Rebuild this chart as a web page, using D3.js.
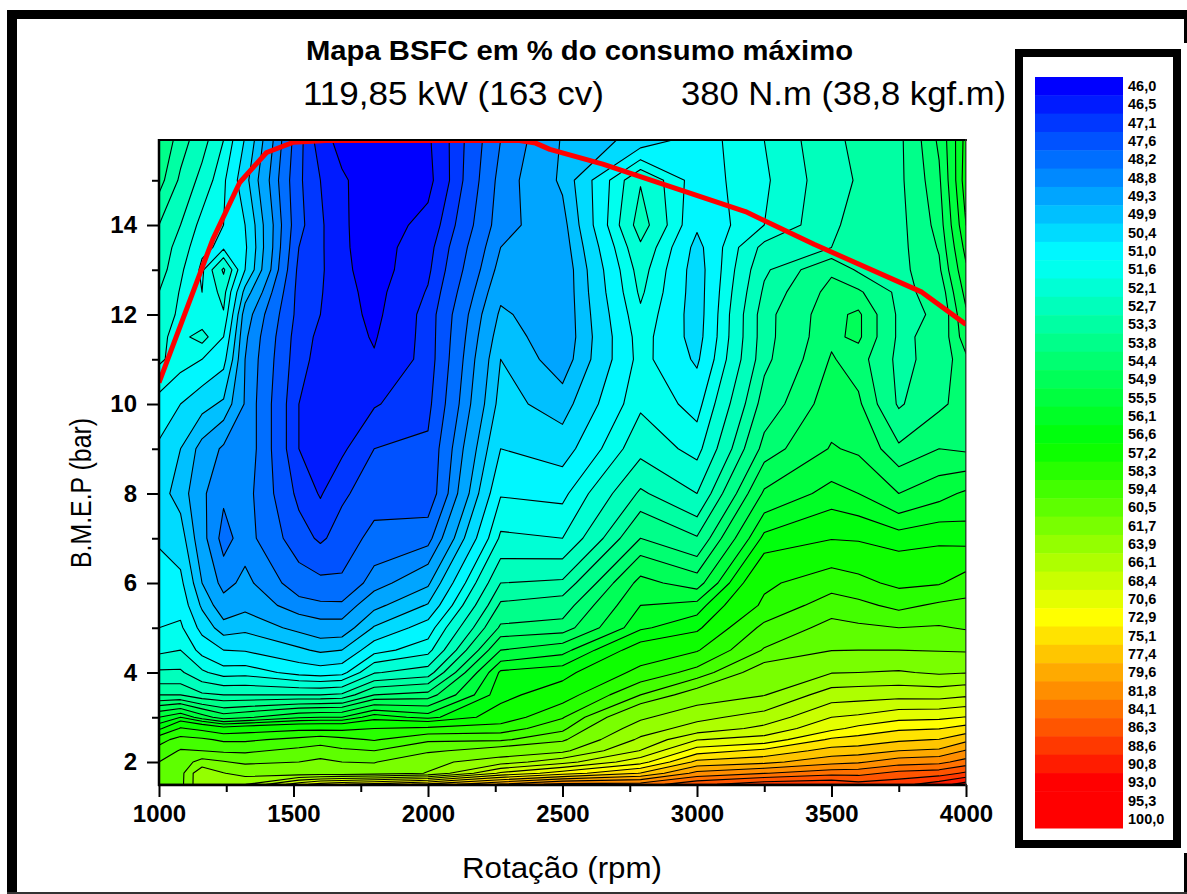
<!DOCTYPE html>
<html>
<head>
<meta charset="utf-8">
<script src="https://cdn.jsdelivr.net/npm/d3@7/dist/d3.min.js"></script>
<style>
  html, body { margin: 0; padding: 0; background: #fff; }
  svg { display: block; }
  text { font-family: "Liberation Sans", Arial, sans-serif; fill: #000; }
</style>
</head>
<body>
<svg id="chart" width="1187" height="894"></svg>
<script>
// measured engine speeds and loads of the map
var rpmCols = [1000, 1080, 1160, 1240, 1320, 1520, 1600, 1680, 1800, 2000, 2270, 2500, 2790, 3000, 3250, 3500, 3600, 3750, 3900, 4000];
var bmepRows = [15.9, 15, 14, 13.5, 13, 12.5, 12, 11.5, 11, 10, 9, 8, 7, 6, 5.5, 5, 4.5, 4, 3.5, 3, 2.75, 2.5, 2.25, 2, 1.75, 1.5];

// BSFC in % of the maximum, one line per bmepRows entry
var bsfcGrid = [
  [54.3, 53.55, 52.95, 52.1, 50.95, 47.8, 46.8, 46.25, 46.1, 46.4, 48.8, 49.95, 50.6, 51.3, 52.1, 53.2, 53.4, 53.65, 55.0, 56.8],
  [54.0, 53.2, 52.5, 51.7, 50.6, 47.7, 47.1, 46.6, 46.1, 46.3, 49.0, 50.0, 52.65, 51.3, 52.0, 53.1, 53.35, 53.65, 54.8, 56.9],
  [53.3, 52.7, 51.9, 51.6, 51.0, 47.75, 47.2, 46.6, 46.15, 46.7, 49.1, 49.7, 53.0, 51.1, 52.1, 53.2, 53.5, 53.6, 54.6, 56.6],
  [53.15, 52.4, 51.7, 51.5, 51.1, 47.6, 47.2, 46.6, 46.2, 46.9, 49.3, 49.6, 52.6, 50.8, 52.9, 53.3, 53.55, 53.6, 54.45, 56.3],
  [53.0, 52.2, 51.5, 52.8, 51.0, 47.45, 47.2, 46.65, 46.2, 47.0, 49.5, 49.5, 52.35, 50.7, 53.2, 54.3, 53.7, 53.6, 54.3, 56.0],
  [52.7, 52.05, 51.6, 52.3, 50.2, 47.4, 47.15, 46.7, 46.3, 47.15, 49.75, 49.5, 52.2, 50.7, 53.4, 54.6, 54.5, 53.65, 54.0, 55.7],
  [52.4, 52.0, 51.7, 52.05, 49.6, 47.4, 47.1, 46.75, 46.35, 47.3, 50.0, 49.5, 52.0, 50.7, 53.6, 54.75, 55.0, 53.7, 53.85, 55.4],
  [52.2, 51.95, 52.3, 51.6, 49.4, 47.3, 47.0, 46.75, 46.45, 47.3, 50.2, 49.5, 51.85, 50.75, 53.6, 54.8, 55.0, 53.7, 53.95, 55.2],
  [52.2, 51.85, 51.6, 51.2, 49.3, 47.25, 46.95, 46.75, 46.55, 47.3, 50.4, 49.6, 51.8, 50.9, 53.65, 54.95, 54.65, 53.65, 54.0, 54.8],
  [51.4, 51.0, 50.6, 50.3, 49.25, 47.1, 46.9, 46.85, 47.05, 47.45, 50.6, 50.15, 52.0, 51.4, 54.05, 55.2, 55.0, 53.72, 54.3, 54.6],
  [50.9, 50.4, 49.7, 49.2, 49.25, 47.1, 46.9, 47.0, 47.6, 47.7, 51.0, 50.7, 52.5, 51.9, 54.6, 55.55, 55.4, 54.5, 54.9, 54.8],
  [50.6, 50.2, 49.4, 48.9, 49.05, 47.45, 47.05, 47.5, 47.9, 47.75, 51.55, 51.45, 53.4, 52.7, 55.6, 56.3, 56.1, 55.5, 55.9, 56.2],
  [50.9, 50.65, 49.5, 48.6, 49.05, 47.85, 47.5, 47.85, 48.4, 48.6, 52.2, 52.1, 54.4, 53.85, 56.75, 57.15, 57.1, 56.85, 57.0, 56.85],
  [51.35, 51.15, 49.9, 49.1, 49.45, 48.5, 48.35, 48.3, 49.05, 49.8, 53.3, 53.4, 55.7, 55.2, 58.1, 58.9, 58.6, 58.05, 58.2, 58.8],
  [51.5, 51.4, 50.3, 49.55, 49.75, 49.0, 48.9, 48.9, 49.75, 50.45, 53.9, 54.1, 56.1, 56.3, 58.5, 60.0, 59.7, 59.1, 59.6, 59.7],
  [51.6, 51.7, 50.8, 50.1, 50.25, 49.75, 49.55, 49.55, 50.45, 51.3, 54.5, 54.6, 56.5, 57.0, 59.7, 60.85, 60.7, 60.5, 60.6, 60.4],
  [51.95, 52.1, 51.4, 51.0, 50.95, 50.5, 50.3, 50.4, 51.4, 51.9, 55.5, 55.9, 57.6, 58.2, 60.6, 61.65, 61.7, 61.7, 61.6, 61.5],
  [52.8, 52.8, 52.2, 51.85, 51.9, 51.4, 51.3, 51.4, 52.65, 53.0, 56.7, 56.9, 58.6, 59.8, 62.6, 63.8, 63.9, 64.1, 63.6, 63.8],
  [53.8, 53.8, 53.4, 53.3, 53.3, 53.3, 53.3, 53.4, 54.4, 54.6, 56.95, 57.7, 60.5, 62.5, 63.8, 67.2, 67.4, 67.6, 67.5, 68.0],
  [56.1, 56.6, 55.8, 55.2, 55.4, 56.0, 56.1, 56.1, 56.9, 56.4, 57.6, 59.3, 63.5, 65.5, 67.0, 70.6, 71.0, 72.2, 72.4, 73.0],
  [57.0, 58.4, 58.0, 57.5, 57.7, 58.0, 58.0, 58.0, 58.3, 58.5, 58.8, 60.2, 65.0, 67.0, 69.0, 72.3, 73.5, 74.7, 75.0, 76.0],
  [59.0, 59.8, 59.6, 59.2, 59.2, 59.7, 60.0, 59.7, 59.3, 60.3, 60.3, 61.4, 66.5, 70.5, 71.5, 75.5, 76.0, 77.0, 77.5, 79.0],
  [59.8, 60.6, 60.5, 60.3, 60.3, 60.8, 61.0, 60.7, 60.5, 61.4, 62.5, 63.4, 68.5, 74.0, 75.7, 78.3, 78.5, 79.6, 80.0, 82.0],
  [60.5, 61.0, 62.2, 61.8, 61.4, 61.7, 62.0, 61.7, 61.6, 63.3, 65.0, 67.5, 72.0, 78.0, 79.0, 81.0, 81.5, 83.0, 83.5, 85.0],
  [60.8, 60.9, 66.0, 64.0, 63.0, 62.5, 62.5, 62.5, 62.8, 64.0, 71.0, 74.0, 77.5, 82.5, 84.0, 85.5, 85.5, 87.0, 87.5, 89.0],
  [61.0, 61.0, 66.0, 65.0, 66.0, 72.0, 74.0, 75.0, 76.0, 78.0, 82.0, 85.0, 85.0, 88.0, 90.0, 90.5, 89.5, 90.0, 92.0, 94.0]
];

// contour levels, same as the legend
var levels = [46.0, 46.5, 47.1, 47.6, 48.2, 48.8, 49.3, 49.9, 50.4, 51.0, 51.6, 52.1, 52.7, 53.3, 53.8, 54.4, 54.9, 55.5, 56.1, 56.6, 57.2,
  58.3, 59.4, 60.5, 61.7, 63.9, 66.1, 68.4, 70.6, 72.9, 75.1, 77.4, 79.6, 81.8, 84.1, 86.3, 88.6, 90.8, 93.0, 95.3, 100.0];
var levelLabels = levels.map(function (d) { return d.toFixed(1).replace(".", ","); });

// full load curve
var curveRpm = [1000, 1200, 1300, 1400, 1500, 1620, 2340, 2400, 2453, 2650, 3180, 3435, 3836, 4000];
var curveBmep = [10.48, 13.68, 14.95, 15.62, 15.85, 15.89, 15.89, 15.83, 15.69, 15.36, 14.3, 13.57, 12.5, 11.78];

var rpmTicks = [1000, 1500, 2000, 2500, 3000, 3500, 4000];
var rpmMinorTicks = [1250, 1750, 2250, 2750, 3250, 3750];
var bmepTicks = [2, 4, 6, 8, 10, 12, 14];
var bmepMinorTicks = [3, 5, 7, 9, 11, 13, 15];

var svg = d3.select("#chart");

var x = d3.scaleLinear().domain([1000, 4000]).range([159, 966]);
var y = d3.scaleLinear().domain([1.486, 15.9]).range([785, 140]);

// legend index -> colour, blue through cyan, green, yellow to red
var color = d3.scaleLinear()
  .domain([0, 9.3, 19.5, 29, 38, 40])
  .range(["#0000ff", "#00ffff", "#00ff00", "#ffff00", "#ff0000", "#ff0000"]);

// outer frame
var frame = svg.append("g");
frame.append("rect").attr("x", 7).attr("y", 10).attr("width", 1180).attr("height", 9);
frame.append("rect").attr("x", 7).attr("y", 10).attr("width", 10).attr("height", 884);
frame.append("rect").attr("x", 1184).attr("y", 10).attr("width", 3).attr("height", 33);
frame.append("rect").attr("x", 1184).attr("y", 853).attr("width", 3).attr("height", 41);
frame.append("rect").attr("x", 7).attr("y", 892).attr("width", 1180).attr("height", 2).attr("fill", "#333");

// map area
svg.append("clipPath").attr("id", "plotClip").append("rect")
  .attr("x", x.range()[0]).attr("y", y.range()[1])
  .attr("width", x.range()[1] - x.range()[0])
  .attr("height", y.range()[0] - y.range()[1]);

// the grid is not evenly spaced, so contour coordinates go through these
var colPx = d3.scaleLinear().domain(d3.range(rpmCols.length)).range(rpmCols.map(function (d) { return x(d); })).clamp(true);
var rowPx = d3.scaleLinear().domain(d3.range(bmepRows.length)).range(bmepRows.map(function (d) { return y(d); })).clamp(true);
var projection = d3.geoTransform({
  point: function (cx, cy) { this.stream.point(colPx(cx - 0.5), rowPx(cy - 0.5)); }
});
var path = d3.geoPath(projection);

var contours = d3.contours()
  .size([rpmCols.length, bmepRows.length])
  .thresholds(levels)(d3.merge(bsfcGrid));

var map = svg.append("g").attr("clip-path", "url(#plotClip)");
map.append("rect")
  .attr("x", x.range()[0]).attr("y", y.range()[1])
  .attr("width", x.range()[1] - x.range()[0])
  .attr("height", y.range()[0] - y.range()[1])
  .attr("fill", color(0));
map.selectAll("path.band")
  .data(contours)
  .enter().append("path")
  .attr("class", "band")
  .attr("d", path)
  .attr("fill", function (d, i) { return color(i); })
  .attr("stroke", "#000")
  .attr("stroke-width", 1.1)
  .attr("stroke-linejoin", "round");

// full load curve on top of the map
var curveLine = d3.line()
  .x(function (d, i) { return x(curveRpm[i]); })
  .y(function (d, i) { return y(curveBmep[i]); });
map.append("path")
  .attr("d", curveLine(curveRpm))
  .attr("fill", "none")
  .attr("stroke", "#ff0000")
  .attr("stroke-width", 5)
  .attr("stroke-linejoin", "round");

// axes
function styleAxis(g) {
  g.selectAll(".tick line").attr("stroke", "#000").attr("stroke-width", 2);
  g.selectAll(".tick text")
    .style("font-family", '"Liberation Sans", Arial, sans-serif')
    .style("font-weight", "bold")
    .style("font-size", "24px");
}

var xAxisG = svg.append("g").attr("transform", "translate(0,785)");
xAxisG.call(d3.axisBottom(x).tickValues(rpmTicks).tickSize(12).tickPadding(8).tickFormat(d3.format("d")));
xAxisG.select(".domain").remove();
styleAxis(xAxisG);
var xMinor = svg.append("g").attr("transform", "translate(0,785)");
xMinor.call(d3.axisBottom(x).tickValues(rpmMinorTicks).tickSize(7).tickFormat(""));
xMinor.select(".domain").remove();
styleAxis(xMinor);

var yAxisG = svg.append("g").attr("transform", "translate(159,0)");
yAxisG.call(d3.axisLeft(y).tickValues(bmepTicks).tickSize(12).tickPadding(10).tickFormat(d3.format("d")));
yAxisG.select(".domain").remove();
styleAxis(yAxisG);
var yMinor = svg.append("g").attr("transform", "translate(159,0)");
yMinor.call(d3.axisLeft(y).tickValues(bmepMinorTicks).tickSize(7).tickFormat(""));
yMinor.select(".domain").remove();
styleAxis(yMinor);

// plot border, right side is thinner
var border = svg.append("g").attr("stroke", "#000");
border.append("line").attr("x1", 159).attr("x2", 159).attr("y1", 139).attr("y2", 786).attr("stroke-width", 2.5);
border.append("line").attr("x1", 158).attr("x2", 967).attr("y1", 140).attr("y2", 140).attr("stroke-width", 2);
border.append("line").attr("x1", 158).attr("x2", 967).attr("y1", 785).attr("y2", 785).attr("stroke-width", 2.5);
border.append("line").attr("x1", 966).attr("x2", 966).attr("y1", 139).attr("y2", 786).attr("stroke-width", 1).attr("stroke", "#444");

// titles
svg.append("text").attr("x", 306).attr("y", 60)
  .attr("textLength", 547).attr("lengthAdjust", "spacingAndGlyphs")
  .style("font-size", "27px").style("font-weight", "bold")
  .text("Mapa BSFC em % do consumo máximo");
svg.append("text").attr("x", 303).attr("y", 105)
  .attr("textLength", 301).attr("lengthAdjust", "spacingAndGlyphs")
  .style("font-size", "34px")
  .text("119,85 kW (163 cv)");
svg.append("text").attr("x", 681).attr("y", 105)
  .attr("textLength", 325).attr("lengthAdjust", "spacingAndGlyphs")
  .style("font-size", "34px")
  .text("380 N.m (38,8 kgf.m)");
svg.append("text").attr("x", 462).attr("y", 878)
  .attr("textLength", 200).attr("lengthAdjust", "spacingAndGlyphs")
  .style("font-size", "30px")
  .text("Rotação (rpm)");
svg.append("text").attr("transform", "translate(91,568) rotate(-90)")
  .attr("textLength", 150).attr("lengthAdjust", "spacingAndGlyphs")
  .style("font-size", "30px")
  .text("B.M.E.P (bar)");

// legend box
var legendY = d3.scaleBand().domain(d3.range(levels.length)).range([77, 828]);
var legend = svg.append("g");
legend.append("rect").attr("x", 1019).attr("y", 53).attr("width", 158).attr("height", 791)
  .attr("fill", "#fff").attr("stroke", "#000").attr("stroke-width", 8);
legend.selectAll("rect.swatch")
  .data(levels)
  .enter().append("rect")
  .attr("class", "swatch")
  .attr("x", 1035)
  .attr("width", 88)
  .attr("y", function (d, i) { return legendY(i); })
  .attr("height", legendY.bandwidth() + 0.5)
  .attr("fill", function (d, i) { return color(i); });
legend.selectAll("text")
  .data(levelLabels)
  .enter().append("text")
  .attr("x", 1128)
  .attr("y", function (d, i) { return legendY(i) + legendY.bandwidth() / 2 + 5; })
  .style("font-size", "14.5px")
  .style("font-weight", "bold")
  .text(function (d) { return d; });
</script>
</body>
</html>
